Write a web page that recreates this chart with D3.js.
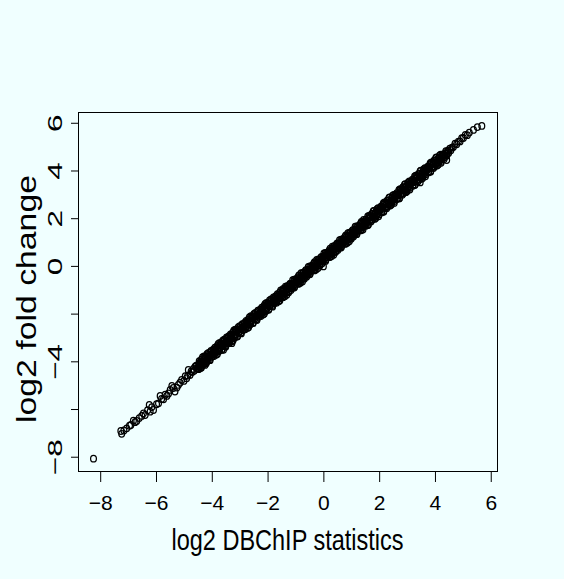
<!DOCTYPE html>
<html>
<head>
<meta charset="utf-8">
<script src="https://cdn.jsdelivr.net/npm/d3@7"></script>
<style>
  html, body { margin: 0; padding: 0; background: #F0FFFF; }
  text { font-family: "Liberation Sans", Arial, sans-serif; fill: #000; }
</style>
</head>
<body>
<svg id="chart" width="564" height="579"></svg>
<script>
// axis ticks
var xTicks = [-8, -6, -4, -2, 0, 2, 4, 6];
var yTicks = [-8, -6, -4, -2, 0, 2, 4, 6];
var yLabelled = [-8, -4, 0, 2, 4, 6];

// points: [log2 DBChIP statistic, log2 fold change]
var lowTail = [[-7.26,-6.92],[-7.23,-7.04],[-7.15,-6.90],[-7.05,-6.81],[-6.95,-6.70],[-6.90,-6.67],
  [-6.81,-6.49],[-6.75,-6.55],[-6.69,-6.50],[-6.60,-6.38],[-6.51,-6.29],[-6.45,-6.18],[-6.39,-6.25],
  [-6.30,-6.05],[-6.24,-5.83],[-6.21,-6.11],[-6.15,-5.92],[-6.09,-6.04],[-5.98,-5.80],[-5.91,-5.76],
  [-5.85,-5.45],[-5.80,-5.58],[-5.73,-5.59],[-5.67,-5.40],[-5.61,-5.45],[-5.55,-5.35],[-5.49,-5.20],
  [-5.43,-5.03],[-5.38,-5.12],[-5.32,-5.27],[-5.25,-5.10],[-5.20,-4.99],[-5.14,-4.90],[-5.08,-4.78],
  [-5.00,-4.82],[-4.95,-4.62],[-4.90,-4.71],[-4.86,-4.60],[-4.84,-4.36],[-4.78,-4.57],[-4.74,-4.42],
  [-4.70,-4.45],[-4.66,-4.32],[-4.63,-4.40],[-4.60,-4.22],[-4.56,-4.18],[-4.52,-4.30],[-4.46,-4.22],
  [-4.42,-4.08],[-4.40,-4.25],[-4.35,-4.12],[-4.18,-4.01]];

// the solid core of the cloud, two interleaved passes per stretch
var coreLow = [[-4.50,-4.19],[-4.47,-4.33],[-4.45,-3.99],[-4.42,-4.20],[-4.39,-4.00],[-4.37,-4.26],
  [-4.33,-3.83],[-4.30,-4.03],[-4.28,-4.10],[-4.25,-3.82],[-4.22,-3.87],[-4.20,-4.08],[-4.17,-3.69],
  [-4.14,-3.89],[-4.12,-3.72],[-4.08,-3.92],[-4.05,-3.72],[-4.03,-3.56],[-4.00,-3.80],[-3.97,-3.68],
  [-3.94,-3.63],[-3.92,-3.78],[-3.89,-3.43],[-3.86,-3.64],[-3.84,-3.45],[-3.80,-3.69],[-3.77,-3.27],
  [-3.75,-3.48],[-3.72,-3.54],[-3.69,-3.26],[-3.66,-3.31],[-3.64,-3.52],[-3.61,-3.13],[-3.58,-3.33],
  [-3.56,-3.16],[-3.52,-3.36],[-3.49,-3.16],[-3.47,-3.00],[-3.44,-3.24],[-3.41,-3.12],[-3.38,-3.07],
  [-3.36,-3.22],[-3.33,-2.87],[-3.30,-3.08],[-3.28,-2.89],[-3.24,-3.13],[-3.21,-2.71],[-3.19,-2.92],
  [-3.16,-2.98],[-3.13,-2.70],[-3.10,-2.75],[-3.08,-2.96],[-3.05,-2.57],[-3.02,-2.77],[-3.00,-2.60],
  [-2.96,-2.80],[-2.93,-2.60],[-2.91,-2.44],[-2.88,-2.68],[-2.85,-2.56],[-2.82,-2.51],[-2.80,-2.66],
  [-2.77,-2.31],[-2.74,-2.52],[-2.72,-2.33],[-2.68,-2.57],[-2.65,-2.15],[-2.63,-2.36],[-2.60,-2.42],
  [-2.57,-2.14],[-2.54,-2.19],[-2.52,-2.40],[-2.49,-2.01],[-2.46,-2.21],[-2.44,-2.04],[-2.40,-2.24],
  [-2.37,-2.04],[-2.35,-1.88],[-2.32,-2.12],[-2.29,-2.00],[-2.26,-1.95],[-2.24,-2.10],[-2.21,-1.75],
  [-2.18,-1.96],[-2.16,-1.77],[-2.12,-2.01],[-2.09,-1.59],[-2.07,-1.80],[-2.04,-1.86],[-2.01,-1.58],
  [-1.98,-1.63],[-1.96,-1.84],[-1.93,-1.45],[-1.90,-1.65],[-1.88,-1.48],[-1.84,-1.68],[-1.81,-1.48],
  [-1.79,-1.32],[-1.76,-1.56],[-1.73,-1.44],[-1.70,-1.39],[-1.68,-1.54],[-1.65,-1.19],[-1.62,-1.40],
  [-1.60,-1.21],[-1.56,-1.45],[-1.53,-1.03]];

var coreLowB = [[-4.48,-4.28],[-4.45,-4.07],[-4.42,-4.13],[-4.40,-4.28],[-4.37,-3.92],[-4.34,-4.01],
  [-4.31,-4.14],[-4.28,-3.79],[-4.26,-4.00],[-4.23,-3.83],[-4.20,-4.06],[-4.17,-3.81],[-4.15,-3.92],
  [-4.12,-3.65],[-4.09,-3.78],[-4.06,-3.95],[-4.03,-3.61],[-4.00,-3.81],[-3.98,-3.70],[-3.95,-3.51],
  [-3.92,-3.72],[-3.89,-3.51],[-3.86,-3.57],[-3.84,-3.72],[-3.81,-3.36],[-3.78,-3.45],[-3.75,-3.58],
  [-3.72,-3.23],[-3.70,-3.44],[-3.67,-3.27],[-3.64,-3.50],[-3.61,-3.25],[-3.59,-3.36],[-3.56,-3.09],
  [-3.53,-3.22],[-3.50,-3.39],[-3.47,-3.05],[-3.44,-3.25],[-3.42,-3.14],[-3.39,-2.95],[-3.36,-3.16],
  [-3.33,-2.95],[-3.30,-3.01],[-3.28,-3.16],[-3.25,-2.80],[-3.22,-2.89],[-3.19,-3.02],[-3.16,-2.67],
  [-3.14,-2.88],[-3.11,-2.71],[-3.08,-2.94],[-3.05,-2.69],[-3.03,-2.80],[-3.00,-2.53],[-2.97,-2.66],
  [-2.94,-2.83],[-2.91,-2.49],[-2.88,-2.69],[-2.86,-2.58],[-2.83,-2.39],[-2.80,-2.60],[-2.77,-2.39],
  [-2.74,-2.45],[-2.72,-2.60],[-2.69,-2.24],[-2.66,-2.33],[-2.63,-2.46],[-2.60,-2.11],[-2.58,-2.32],
  [-2.55,-2.15],[-2.52,-2.38],[-2.49,-2.13],[-2.47,-2.24],[-2.44,-1.97],[-2.41,-2.10],[-2.38,-2.27],
  [-2.35,-1.93],[-2.32,-2.13],[-2.30,-2.02],[-2.27,-1.83],[-2.24,-2.04],[-2.21,-1.83],[-2.18,-1.89],
  [-2.16,-2.04],[-2.13,-1.68],[-2.10,-1.77],[-2.07,-1.90],[-2.04,-1.55],[-2.02,-1.76],[-1.99,-1.59],
  [-1.96,-1.82],[-1.93,-1.57],[-1.91,-1.68],[-1.88,-1.41],[-1.85,-1.54],[-1.82,-1.71],[-1.79,-1.37],
  [-1.76,-1.57],[-1.74,-1.46],[-1.71,-1.27],[-1.68,-1.48],[-1.65,-1.27],[-1.62,-1.33],[-1.60,-1.48],
  [-1.57,-1.12],[-1.54,-1.21],[-1.51,-1.34]];

var coreMid = [[-1.50,-1.26],[-1.47,-1.03],[-1.44,-1.31],[-1.42,-1.05],[-1.39,-1.18],[-1.36,-0.87],
  [-1.33,-1.03],[-1.31,-1.21],[-1.28,-0.87],[-1.25,-1.06],[-1.22,-0.88],[-1.19,-0.74],[-1.16,-1.01],
  [-1.14,-0.86],[-1.11,-0.73],[-1.08,-0.85],[-1.05,-0.58],[-1.03,-0.86],[-1.00,-0.68],[-0.97,-0.55],
  [-0.94,-0.70],[-0.91,-0.47],[-0.88,-0.75],[-0.86,-0.49],[-0.83,-0.62],[-0.80,-0.31],[-0.77,-0.47],
  [-0.75,-0.65],[-0.72,-0.31],[-0.69,-0.50],[-0.66,-0.32],[-0.63,-0.18],[-0.60,-0.45],[-0.58,-0.30],
  [-0.55,-0.17],[-0.52,-0.29],[-0.49,-0.02],[-0.47,-0.30],[-0.44,-0.12],[-0.41,0.01],[-0.38,-0.14],
  [-0.35,0.09],[-0.32,-0.19],[-0.30,0.07],[-0.27,-0.06],[-0.24,0.25],[-0.21,0.09],[-0.19,-0.09],
  [-0.16,0.25],[-0.13,0.06],[-0.10,0.24],[-0.07,0.38],[-0.04,0.11],[-0.02,0.26],[0.01,0.39],
  [0.04,0.27],[0.07,0.54],[0.09,0.26],[0.12,0.44],[0.15,0.57],[0.18,0.42],[0.21,0.65],[0.24,0.37],
  [0.26,0.63],[0.29,0.50],[0.32,0.81],[0.35,0.65],[0.37,0.47],[0.40,0.81],[0.43,0.62],[0.46,0.80],
  [0.49,0.94],[0.52,0.67],[0.54,0.82],[0.57,0.95],[0.60,0.83],[0.63,1.10],[0.65,0.82],[0.68,1.00],
  [0.71,1.13],[0.74,0.98],[0.77,1.21],[0.80,0.93],[0.82,1.19],[0.85,1.06],[0.88,1.37],[0.91,1.21],
  [0.93,1.03],[0.96,1.37],[0.99,1.18],[1.02,1.36],[1.05,1.50],[1.08,1.23],[1.10,1.38],[1.13,1.51],
  [1.16,1.39],[1.19,1.66],[1.21,1.38],[1.24,1.56],[1.27,1.69],[1.30,1.54],[1.33,1.77],[1.36,1.49],
  [1.38,1.75],[1.41,1.62],[1.44,1.93],[1.47,1.77]];

var coreMidB = [[-1.49,-1.16],[-1.46,-1.30],[-1.44,-0.96],[-1.41,-1.14],[-1.38,-1.27],[-1.35,-0.96],
  [-1.32,-1.10],[-1.30,-0.85],[-1.27,-0.97],[-1.24,-1.10],[-1.21,-0.78],[-1.18,-0.93],[-1.16,-0.80],
  [-1.13,-0.94],[-1.10,-0.60],[-1.07,-0.79],[-1.04,-0.91],[-1.02,-0.61],[-0.99,-0.75],[-0.96,-0.61],
  [-0.93,-0.60],[-0.90,-0.74],[-0.88,-0.40],[-0.85,-0.58],[-0.82,-0.71],[-0.79,-0.40],[-0.76,-0.54],
  [-0.74,-0.29],[-0.71,-0.41],[-0.68,-0.54],[-0.65,-0.22],[-0.62,-0.37],[-0.60,-0.24],[-0.57,-0.38],
  [-0.54,-0.04],[-0.51,-0.23],[-0.48,-0.35],[-0.46,-0.05],[-0.43,-0.19],[-0.40,-0.05],[-0.37,-0.04],
  [-0.34,-0.18],[-0.32,0.16],[-0.29,-0.02],[-0.26,-0.15],[-0.23,0.16],[-0.20,0.02],[-0.18,0.27],
  [-0.15,0.15],[-0.12,0.02],[-0.09,0.34],[-0.06,0.19],[-0.04,0.32],[-0.01,0.18],[0.02,0.52],
  [0.05,0.33],[0.08,0.21],[0.10,0.51],[0.13,0.37],[0.16,0.51],[0.19,0.52],[0.22,0.38],[0.24,0.72],
  [0.27,0.54],[0.30,0.41],[0.33,0.72],[0.36,0.58],[0.38,0.83],[0.41,0.71],[0.44,0.58],[0.47,0.90],
  [0.50,0.75],[0.52,0.88],[0.55,0.74],[0.58,1.08],[0.61,0.89],[0.64,0.77],[0.66,1.07],[0.69,0.93],
  [0.72,1.07],[0.75,1.08],[0.78,0.94],[0.80,1.28],[0.83,1.10],[0.86,0.97],[0.89,1.28],[0.92,1.14],
  [0.94,1.39],[0.97,1.27],[1.00,1.14],[1.03,1.46],[1.06,1.31],[1.08,1.44],[1.11,1.30],[1.14,1.64],
  [1.17,1.45],[1.20,1.33],[1.22,1.63],[1.25,1.49],[1.28,1.63],[1.31,1.64],[1.34,1.50],[1.36,1.84],
  [1.39,1.66],[1.42,1.53],[1.45,1.84],[1.48,1.70]];

var coreHigh = [[1.50,1.86],[1.53,1.68],[1.56,1.83],[1.59,2.07],[1.61,1.73],[1.64,2.05],[1.67,1.90],
  [1.70,2.03],[1.73,2.17],[1.75,1.93],[1.78,2.07],[1.81,2.31],[1.84,1.97],[1.87,2.25],[1.89,2.10],
  [1.92,2.38],[1.95,2.21],[1.98,2.08],[2.01,2.41],[2.03,2.34],[2.06,2.42],[2.09,2.24],[2.12,2.39],
  [2.15,2.63],[2.17,2.29],[2.20,2.61],[2.23,2.46],[2.26,2.59],[2.29,2.73],[2.31,2.49],[2.34,2.63],
  [2.37,2.87],[2.40,2.53],[2.43,2.81],[2.45,2.66],[2.48,2.94],[2.51,2.77],[2.54,2.64],[2.57,2.97],
  [2.59,2.90],[2.62,2.98],[2.65,2.80],[2.68,2.95],[2.71,3.19],[2.73,2.85],[2.76,3.17],[2.79,3.02],
  [2.82,3.15],[2.85,3.29],[2.87,3.05],[2.90,3.19],[2.93,3.43],[2.96,3.09],[2.99,3.37],[3.01,3.22],
  [3.04,3.50],[3.07,3.33],[3.10,3.20],[3.13,3.53],[3.15,3.46],[3.18,3.54],[3.21,3.36],[3.24,3.51],
  [3.27,3.75],[3.29,3.41],[3.32,3.73],[3.35,3.58],[3.38,3.71],[3.41,3.85],[3.43,3.61],[3.46,3.75],
  [3.49,3.99],[3.52,3.65],[3.55,3.93],[3.57,3.78],[3.60,4.06],[3.63,3.89],[3.66,3.76],[3.69,4.09],
  [3.71,4.02],[3.74,4.10],[3.77,3.92],[3.80,4.07],[3.83,4.31],[3.85,3.97],[3.88,4.29],[3.91,4.14],
  [3.94,4.27],[3.97,4.41],[3.99,4.17],[4.02,4.31],[4.05,4.55],[4.08,4.21],[4.11,4.49],[4.13,4.34],
  [4.16,4.62],[4.19,4.45],[4.22,4.32],[4.25,4.65],[4.27,4.58],[4.30,4.66],[4.33,4.48],[4.36,4.63],
  [4.39,4.81],[4.42,4.62],[4.45,4.78],[4.49,4.73],[4.53,4.91],[4.57,4.85],[4.61,4.96]];

var coreHighB = [[1.51,1.93],[1.54,1.73],[1.57,1.87],[1.60,1.71],[1.63,2.10],[1.65,1.89],[1.68,2.05],
  [1.71,1.86],[1.74,2.18],[1.77,2.05],[1.79,2.29],[1.82,2.03],[1.85,2.19],[1.88,2.01],[1.91,2.31],
  [1.93,2.19],[1.96,2.42],[1.99,2.16],[2.02,2.34],[2.05,2.43],[2.07,2.49],[2.10,2.29],[2.13,2.43],
  [2.16,2.27],[2.19,2.66],[2.21,2.45],[2.24,2.61],[2.27,2.42],[2.30,2.74],[2.33,2.61],[2.35,2.85],
  [2.38,2.59],[2.41,2.75],[2.44,2.57],[2.47,2.87],[2.49,2.75],[2.52,2.98],[2.55,2.72],[2.58,2.90],
  [2.61,2.99],[2.63,3.05],[2.66,2.85],[2.69,2.99],[2.72,2.83],[2.75,3.22],[2.77,3.01],[2.80,3.17],
  [2.83,2.98],[2.86,3.30],[2.89,3.17],[2.91,3.41],[2.94,3.15],[2.97,3.31],[3.00,3.13],[3.03,3.43],
  [3.05,3.31],[3.08,3.54],[3.11,3.28],[3.14,3.46],[3.17,3.55],[3.19,3.61],[3.22,3.41],[3.25,3.55],
  [3.28,3.39],[3.31,3.78],[3.33,3.57],[3.36,3.73],[3.39,3.54],[3.42,3.86],[3.45,3.73],[3.47,3.97],
  [3.50,3.71],[3.53,3.87],[3.56,3.69],[3.59,3.99],[3.61,3.87],[3.64,4.10],[3.67,3.84],[3.70,4.02],
  [3.73,4.11],[3.75,4.17],[3.78,3.97],[3.81,4.11],[3.84,3.95],[3.87,4.34],[3.89,4.13],[3.92,4.29],
  [3.95,4.10],[3.98,4.42],[4.01,4.29],[4.03,4.53],[4.06,4.27],[4.09,4.43],[4.12,4.25],[4.15,4.55],
  [4.17,4.43],[4.20,4.66],[4.23,4.40],[4.26,4.58],[4.29,4.67],[4.31,4.61],[4.34,4.56],[4.38,4.73],
  [4.43,4.70],[4.47,4.83]];

var highTail = [[4.66,4.98],[4.72,5.12],[4.78,5.10],[4.84,5.21],[4.90,5.22],[4.96,5.35],[5.02,5.36],
  [5.09,5.49],[5.16,5.48],[5.23,5.59],[5.38,5.70],[5.52,5.82],[5.68,5.87]];

var offLine = [[-8.24,-8.08],[-4.24,-4.15],[-3.58,-3.52],[-3.28,-3.24],[0.00,-0.02],[3.47,3.50],[4.42,4.44]];

var points = lowTail.concat(coreLow, coreLowB, coreMid, coreMidB, coreHigh, coreHighB, highTail, offLine);

var svg = d3.select("#chart");
var W = +svg.attr("width"), H = +svg.attr("height");
var plot = { left: 79, right: 498, top: 113, bottom: 472 };

svg.append("rect").attr("width", W).attr("height", H).attr("fill", "#F0FFFF");

var x = d3.scaleLinear().domain([-8.76, 6.26]).range([plot.left, plot.right]);
var y = d3.scaleLinear().domain([-8.64, 6.41]).range([plot.bottom, plot.top]);

var fmt = function (d) { return d < 0 ? "\u2212" + Math.abs(d) : "" + d; };

// x axis
var gx = svg.append("g")
  .attr("transform", "translate(0," + plot.bottom + ")")
  .call(d3.axisBottom(x).tickValues(xTicks).tickSize(10).tickFormat(fmt));
gx.select(".domain").remove();
gx.selectAll("line").attr("stroke", "#000");
gx.selectAll("text")
  .attr("y", 38).attr("dy", null)
  .style("font-size", "21px");

// y axis, rotated labels, some left out as R does
var gy = svg.append("g")
  .attr("transform", "translate(" + plot.left + ",0)")
  .call(d3.axisLeft(y).tickValues(yTicks).tickSize(8).tickFormat(fmt));
gy.select(".domain").remove();
gy.selectAll("line").attr("stroke", "#000");
gy.selectAll("text")
  .filter(function (d) { return yLabelled.indexOf(d) < 0; }).remove();
gy.selectAll("text")
  .attr("x", null).attr("dy", null)
  .attr("text-anchor", "middle")
  .attr("transform", "translate(-17,0) rotate(-90) scale(1.5,1)")
  .style("font-size", "21px");

// frame
svg.append("rect")
  .attr("x", plot.left - 0.5).attr("y", plot.top - 0.5)
  .attr("width", plot.right - plot.left).attr("height", plot.bottom - plot.top)
  .attr("fill", "none").attr("stroke", "#000").attr("stroke-width", 1);

// points
svg.append("g").selectAll("ellipse")
  .data(points)
  .enter().append("ellipse")
  .attr("cx", function (d) { return x(d[0]); })
  .attr("cy", function (d) { return y(d[1]); })
  .attr("rx", 2.9).attr("ry", 3.3)
  .attr("fill", "none").attr("stroke", "#000").attr("stroke-width", 1.25);

// axis titles
svg.append("text")
  .attr("x", 287.5).attr("y", 550)
  .attr("text-anchor", "middle")
  .attr("textLength", 232).attr("lengthAdjust", "spacingAndGlyphs")
  .style("font-size", "30px")
  .text("log2 DBChIP statistics");

svg.append("text")
  .attr("transform", "translate(36,299) rotate(-90)")
  .attr("text-anchor", "middle")
  .attr("textLength", 248).attr("lengthAdjust", "spacingAndGlyphs")
  .style("font-size", "28px")
  .text("log2 fold change");
</script>
</body>
</html>
